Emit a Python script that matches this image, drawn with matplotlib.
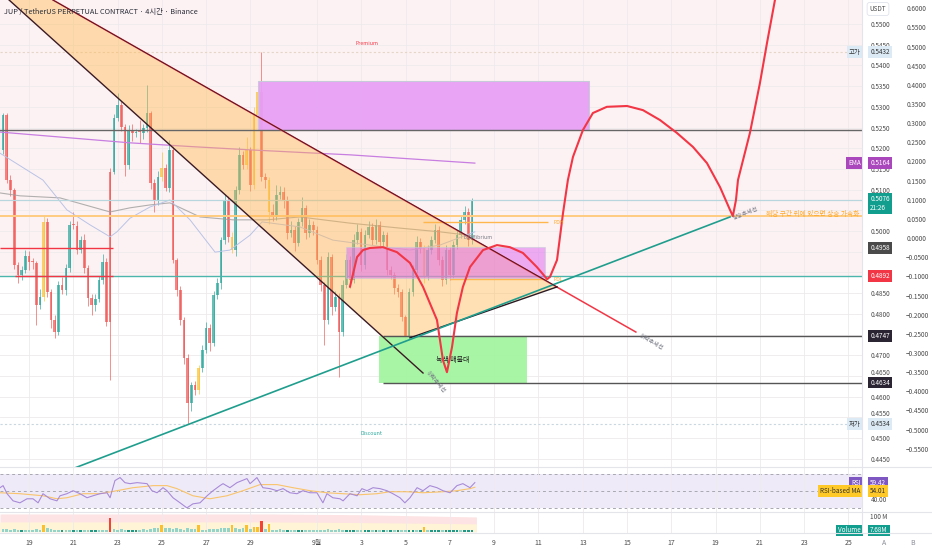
import numpy as np
import matplotlib.pyplot as plt
from matplotlib.patches import Rectangle, Polygon
from matplotlib.lines import Line2D
from matplotlib.transforms import blended_transform_factory, ScaledTranslation

plt.rcParams['font.family'] = ['Noto Sans CJK KR', 'DejaVu Sans']

# time axis in days: Aug 19 = 19, Sep 1 = 32; 4h candles
t0 = 17.83
first_open = 0.5196
closes = [0.5280, 0.5123, 0.5099, 0.4918, 0.4894, 0.4906, 0.4940, 0.4925, 0.4923, 0.4821,
          0.4841, 0.5022, 0.4853, 0.4785, 0.4756, 0.4870, 0.4858, 0.4911, 0.5015, 0.5012,
          0.4954, 0.4978, 0.4911, 0.4838, 0.4821, 0.4836, 0.4882, 0.4925, 0.4780, 0.5143,
          0.5273, 0.5304, 0.5251, 0.5159, 0.5244, 0.5237, 0.5239, 0.5237, 0.5249, 0.5285,
          0.5116, 0.5075, 0.5131, 0.5152, 0.5104, 0.5196, 0.4930, 0.4858, 0.4785, 0.4693,
          0.4585, 0.4628, 0.4616, 0.4669, 0.4713, 0.4766, 0.4730, 0.4846, 0.4875, 0.4978,
          0.5075, 0.4986, 0.4954, 0.5099, 0.5184, 0.5159, 0.5196, 0.5111, 0.5280, 0.5336,
          0.5131, 0.5123, 0.5046, 0.5034, 0.5087, 0.5094, 0.5075, 0.4995, 0.5003, 0.4971,
          0.5022, 0.5056, 0.4995, 0.5015, 0.5003, 0.4930, 0.4870, 0.4785, 0.4937, 0.4817,
          0.4841, 0.4756, 0.4870, 0.4930, 0.4882, 0.4978, 0.4998, 0.4918, 0.4990, 0.5010,
          0.4978, 0.5015, 0.4974, 0.4990, 0.4906, 0.4894, 0.4862, 0.4853, 0.4792, 0.4744,
          0.4853, 0.4906, 0.4974, 0.4959, 0.4889, 0.4954, 0.4978, 0.5003, 0.4930, 0.4882,
          0.4954, 0.4894, 0.4966, 0.4990, 0.5027, 0.5046, 0.4978, 0.5076]
# wick lengths in 0.0001
up_wick = [6, 5, 12, 6, 8, 10, 15, 12, 10, 5,
           20, 15, 10, 8, 12, 10, 20, 10, 8, 30,
           12, 10, 15, 8, 10, 12, 10, 20, 10, 10,
           10, 29, 10, 8, 12, 15, 8, 30, 10, 68,
           5, 10, 15, 40, 10, 25, 10, 6, 10, 8,
           10, 8, 10, 8, 12, 15, 10, 10, 12, 8,
           15, 10, 12, 10, 20, 10, 30, 8, 20, 20,
           96, 10, 8, 20, 25, 15, 12, 10, 20, 8,
           10, 25, 8, 15, 10, 8, 10, 8, 12, 8,
           15, 10, 12, 15, 10, 15, 20, 10, 12, 15,
           10, 15, 8, 10, 8, 10, 8, 10, 6, 5,
           10, 12, 15, 10, 8, 12, 10, 15, 8, 10,
           12, 8, 10, 12, 10, 15, 10, 4]
dn_wick = [10, 8, 15, 10, 20, 12, 8, 20, 15, 48,
           10, 10, 12, 20, 14, 8, 10, 12, 10, 8,
           10, 8, 12, 20, 25, 15, 8, 10, 10, 140,
           6, 8, 10, 25, 10, 20, 10, 25, 15, 10,
           15, 30, 12, 10, 8, 10, 8, 15, 12, 15,
           51, 20, 12, 10, 10, 8, 20, 8, 10, 15,
           10, 12, 8, 15, 10, 8, 10, 15, 10, 8,
           10, 20, 30, 10, 8, 10, 20, 15, 10, 20,
           8, 10, 15, 10, 12, 10, 15, 60, 10, 20,
           10, 109, 10, 8, 20, 8, 10, 15, 10, 8,
           12, 10, 15, 10, 12, 10, 15, 12, 10, 15,
           8, 10, 8, 12, 15, 8, 10, 8, 12, 15,
           10, 12, 8, 10, 8, 10, 15, 10]
# volume in millions
volumes = [15, 18, 12, 20, 10, 8, 14, 10, 12, 16,
           10, 45, 25, 20, 14, 10, 8, 12, 14, 8,
           10, 9, 12, 10, 8, 9, 12, 10, 12, 87,
           20, 14, 20, 10, 8, 9, 8, 14, 16, 12,
           18, 22, 22, 45, 26, 22, 20, 24, 18, 14,
           22, 16, 20, 42, 14, 14, 16, 18, 20, 22,
           25, 24, 45, 26, 20, 24, 45, 20, 28, 28,
           68, 18, 50, 14, 12, 16, 10, 8, 14, 10,
           8, 9, 12, 10, 14, 12, 10, 14, 16, 12,
           10, 18, 10, 8, 9, 8, 12, 14, 8, 9,
           10, 8, 12, 8, 10, 9, 12, 8, 14, 10,
           9, 8, 10, 9, 30, 10, 8, 9, 8, 10,
           8, 9, 8, 9, 10, 8, 9, 8]

# moving averages (day, price)
ema_d = [17.69, 20.4, 23.56, 26.3, 28.98, 31.2, 33.49, 36.3, 39.13]
ema_p = [0.5239, 0.5227, 0.5213, 0.5204, 0.5196, 0.5190, 0.5184, 0.5174, 0.5164]
ma_d = [17.69, 18.59, 20.40, 22.66, 23.56, 24.46, 25.36, 26.72, 28.21, 29.74, 31.23, 33.49, 35.75, 37.55, 39.13]
ma_p = [0.5092, 0.5085, 0.5080, 0.5046, 0.5056, 0.5063, 0.5068, 0.5034, 0.5027, 0.5027, 0.5034, 0.5019, 0.5007, 0.4998, 0.4988]
fast_d = [17.69, 19.63, 20.71, 21.75, 22.66, 22.97, 23.56, 24.46, 25.36, 26.27, 27.40, 28.07, 28.98, 29.52,
          31.23, 32.72, 34.39, 36.20, 37.55, 39.13]
fast_p = [0.5188, 0.5123, 0.5051, 0.5015, 0.4986, 0.4998, 0.5031, 0.5058, 0.5075, 0.5027, 0.4949, 0.4954, 0.4990, 0.5022,
          0.5010, 0.4978, 0.4966, 0.4954, 0.4966, 0.4998]

# drawings (day, price anchors)
wedge_d = [18.10, 20.08, 42.84, 36.2, 35.03]
wedge_p = [0.5558, 0.5558, 0.4865, 0.4742, 0.4742]
down_upper_d = [20.08, 46.40]
down_upper_p = [0.5558, 0.4756]
down_lower_d = [18.10, 36.79]
down_lower_p = [0.5558, 0.4657]
up_trend_d = [21.08, 50.65]
up_trend_p = [0.4428, 0.5034]
curve_d = [33.49, 33.81, 34.08, 34.39, 34.98, 35.61, 36.20, 36.79, 37.42, 37.69, 37.87, 38.10, 38.32, 38.59,
           38.91, 39.50, 40.13, 40.71, 41.30, 41.93, 42.39, 42.52, 42.84, 43.11, 43.33, 43.56, 44.01, 44.46,
           45.09, 46.00, 46.72, 47.49, 48.25, 48.98, 49.61, 50.20, 50.65, 50.78, 50.92, 51.01, 51.55, 52.00,
           52.32, 52.68]
curve_p = [0.4865, 0.4937, 0.4954, 0.4959, 0.4961, 0.4949, 0.4923, 0.4865, 0.4785, 0.4688, 0.4659, 0.4720, 0.4802, 0.4865,
           0.4913, 0.4954, 0.4966, 0.4961, 0.4947, 0.4913, 0.4884, 0.4889, 0.4930, 0.5043, 0.5123, 0.5179, 0.5244, 0.5285,
           0.5300, 0.5302, 0.5292, 0.5268, 0.5237, 0.5203, 0.5164, 0.5106, 0.5051, 0.5036, 0.5075, 0.5123, 0.5237, 0.5357,
           0.5454, 0.5558]

# RSI pane
rsi_d = [17.69, 17.83, 18.01, 18.28, 18.59, 18.91, 19.18, 19.41, 19.63, 19.95, 20.26, 20.40, 20.71, 20.99, 21.30,
         21.62, 21.89, 22.20, 22.52, 22.66, 22.88, 23.11, 23.33, 23.56, 23.88, 24.33, 24.55, 24.78, 25.05, 25.23,
         25.50, 25.82, 26.13, 26.40, 26.72, 27.04, 27.31, 27.62, 27.76, 28.07, 28.39, 28.84, 28.98, 29.29, 29.56,
         29.88, 30.20, 30.47, 30.78, 31.10, 31.37, 31.69, 32.00, 32.27, 32.45, 32.72, 33.04, 33.18, 33.49, 33.81,
         34.03, 34.26, 34.53, 34.85, 35.16, 35.43, 35.75, 35.97, 36.20, 36.52, 36.79, 37.10, 37.42, 37.69, 38.01,
         38.32, 38.59, 38.91, 39.13]
rsi_v = [53.5, 55.9, 46.5, 38.2, 35.9, 40.6, 40.6, 35.9, 46.5, 40.6, 38.2, 44.1, 46.5, 50.0, 46.5,
         41.8, 44.1, 46.5, 47.6, 41.8, 61.8, 65.3, 59.4, 58.2, 59.4, 58.2, 50.0, 47.6, 53.5, 50.0,
         41.8, 35.9, 30.0, 34.7, 35.9, 44.1, 50.0, 55.9, 58.2, 53.5, 59.4, 64.1, 58.2, 65.3, 53.5,
         52.4, 50.0, 52.4, 47.6, 46.5, 50.0, 47.6, 47.6, 35.9, 46.5, 41.8, 40.6, 38.2, 46.5, 44.1,
         52.4, 50.0, 53.5, 52.4, 50.0, 46.5, 41.8, 35.9, 41.8, 53.5, 50.0, 55.9, 53.5, 50.0, 47.6,
         55.9, 58.2, 53.5, 59.42]
rsi_ma_d = [17.69, 18.59, 19.63, 20.26, 20.71, 21.44, 22.20, 22.97, 23.69, 24.60, 25.23, 25.68, 26.40, 27.17,
            27.94, 28.66, 29.43, 30.20, 30.92, 31.69, 32.45, 33.18, 33.94, 34.71, 35.30, 36.06, 36.79, 37.69,
            38.32, 38.91, 39.13]
rsi_ma_v = [47.6, 46.5, 44.1, 40.6, 41.8, 46.5, 46.5, 50.0, 53.5, 55.9, 55.9, 52.4, 44.1, 40.6,
            44.1, 50.0, 57.1, 57.1, 53.5, 50.0, 47.6, 46.5, 45.3, 46.5, 48.8, 48.8, 47.6, 48.8,
            50.0, 52.4, 54.01]

# volume background band
band_d = [17.69, 30.0, 34.0, 39.2]
band_pink = [113, 113, 108, 94]
band_yellow = [62, 62, 58, 50]

date_ticks = [19, 21, 23, 25, 27, 29, 32, 34, 36, 38, 40, 42, 44, 46, 48, 50, 52, 54, 56]
date_labels = ['19', '21', '23', '25', '27', '29', '9월', '3', '5', '7', '9', '11', '13', '15', '17',
               '19', '21', '23', '25']
price_ticks = np.round(np.arange(0.445, 0.5501, 0.005), 4)
hidden_prices = [0.5050, 0.4950, 0.4900, 0.4750]   # covered by price tags
raised_prices = [0.4650, 0.4550]                   # pushed up by the tag below
pct_ticks = np.round(np.arange(-0.55, 0.6001, 0.05), 2)

TEAL = '#26a69a'
RED = '#ef5350'
YEL = '#fbc02d'
GRAY_TXT = '#4a4a4a'

W, H = 932, 550
fig = plt.figure(figsize=(W / 100, H / 100), dpi=100)


def rect(x0, y0, x1, y1):
    return [x0 / W, 1 - y1 / H, (x1 - x0) / W, (y1 - y0) / H]


ax = fig.add_axes(rect(0, 0, 862, 467))
ax_rsi = fig.add_axes(rect(0, 467, 862, 512), sharex=ax)
ax_vol = fig.add_axes(rect(0, 512, 862, 533), sharex=ax)

ax.set_xlim(17.69, 56.61)
ax.set_ylim(0.4430, 0.5558)
ax_rsi.set_ylim(25.2, 77.6)
ax_vol.set_ylim(-8.3, 125.5)

for a in (ax, ax_rsi, ax_vol):
    for s in a.spines.values():
        s.set_visible(False)
    a.set_xticks(date_ticks)
    a.grid(axis='x', color='#eeeaec', lw=0.6, zorder=0)
    a.tick_params(axis='x', length=0, labelbottom=False)
    a.yaxis.tick_right()
    a.tick_params(axis='y', length=0, pad=6, labelsize=4.6, labelcolor=GRAY_TXT)

ax_vol.tick_params(axis='x', labelbottom=True, pad=4, labelsize=5, labelcolor=GRAY_TXT)
ax_vol.set_xticklabels(date_labels)

# price axis
ax.set_yticks(price_ticks)
ax.set_yticklabels(['' if any(abs(p - h) < 1e-6 for h in hidden_prices) else f'{p:.4f}' for p in price_ticks])
ax.grid(axis='y', color='#eeeaec', lw=0.6, zorder=0)
ax.set_axisbelow(True)
lift = ScaledTranslation(0, 3 / 72, fig.dpi_scale_trans)
for val, tick in zip(price_ticks, ax.yaxis.get_major_ticks()):
    if any(abs(val - r) < 1e-6 for r in raised_prices):
        tick.label2.set_transform(tick.label2.get_transform() + lift)

sec = ax.secondary_yaxis(1.0464, functions=(lambda p: (p - 0.4983) * 10.81,
                                            lambda b: b / 10.81 + 0.4983))
sec.set_yticks(pct_ticks)
sec.set_yticklabels([f'{b:.4f}'.replace('-', '\u2212') for b in pct_ticks])
sec.tick_params(length=0, pad=3, labelsize=4.6, labelcolor=GRAY_TXT)
for s in sec.spines.values():
    s.set_visible(False)

# premium zone background
ax.axhspan(0.4892, 0.5558, color='#fdf2f3', zorder=0, lw=0)

# candles
n = len(closes)
t = t0 + np.arange(n) / 6
c = np.array(closes)
o = np.r_[first_open, c[:-1]]
vol = np.array(volumes)
hi = np.maximum(o, c) + np.array(up_wick) * 1e-4
lo = np.minimum(o, c) - np.array(dn_wick) * 1e-4
ccol = np.where(c >= o, TEAL, RED).astype(object)
ccol[vol >= 28] = YEL
ccol[vol > 60] = RED
ax.vlines(t, lo, hi, colors=list(ccol), lw=0.7, alpha=0.65, zorder=2)
body = np.where(np.abs(c - o) < 0.0003, 0.0003, c - o)
ax.bar(t, body, bottom=o, width=0.12, color=list(ccol), alpha=0.7, lw=0, zorder=2.1)

# moving averages
ax.plot(ema_d, ema_p, color='#c77ee0', lw=0.9, zorder=2.5)
ax.plot(ma_d, ma_p, color='#9e9e9e', lw=0.8, alpha=0.8, zorder=2.5)
ax.plot(fast_d, fast_p, color='#b9c3e6', lw=0.7, zorder=2.5)

# horizontal levels
ax.axhline(0.5432, color='#e6d6c8', lw=0.8, ls=(0, (2, 2)), zorder=2.6)
ax.axhline(0.4534, color='#c9d7e0', lw=0.8, ls=(0, (2, 2)), zorder=2.6)
ax.axhline(0.5076, color='#b7d6de', lw=0.9, zorder=2.6)
ax.axhline(0.5036, color='#ffcc80', lw=1.4, zorder=2.6)
ax.axhline(0.4892, color='#4db6ac', lw=1.0, zorder=2.6)
ax.axhline(0.5243, color='#666666', lw=1.0, zorder=4)
ax.hlines([0.4747, 0.4634], 35.0, 56.61, color='#555555', lw=1.0, zorder=4)
ax.hlines(0.5022, 36.79, 42.43, color='#ffb74d', lw=1.0, zorder=2.7)
ax.hlines(0.4884, 38.01, 42.43, color='#ffb74d', lw=1.0, zorder=2.7)
ax.hlines(0.4958, 17.69, 22.79, color='#f23645', lw=1.0, zorder=2.7)
ax.hlines(0.4892, 18.37, 22.79, color='#f23645', lw=1.0, zorder=2.7)

# wedge fill and borders
ax.add_patch(Polygon(np.c_[wedge_d, wedge_p], closed=True, fc='#ffb74d', alpha=0.42, lw=0, zorder=3))
ax.plot(down_upper_d, down_upper_p, color='#f23645', lw=1.1, zorder=4.2)
ax.plot(wedge_d[1:3], wedge_p[1:3], color='#3a1a24', lw=0.6, zorder=4.3)
ax.plot(down_lower_d, down_lower_p, color='#3a1a24', lw=1.0, zorder=4.2)
ax.plot(wedge_d[2:4], wedge_p[2:4], color='#2a1a24', lw=1.0, zorder=4.2)
ax.plot(up_trend_d, up_trend_p, color='#1f9e8e', lw=1.2, zorder=4.2)

# boxes
ax.add_patch(Rectangle((29.34, 0.5243), 44.28 - 29.34, 0.5362 - 0.5243,
                       fc='#e8a0f6', ec='#c5cbd8', lw=0.8, alpha=0.95, zorder=3.5))
ax.add_patch(Rectangle((33.31, 0.4886), 42.30 - 33.31, 0.4962 - 0.4886,
                       fc='#e070f0', ec='#c5cbd8', lw=0.8, alpha=0.55, zorder=3.5))
ax.add_patch(Rectangle((34.80, 0.4634), 41.48 - 34.80, 0.4747 - 0.4634,
                       fc='#a3f5a0', ec='none', alpha=0.95, zorder=3.5))

# projected path
ax.plot(curve_d, curve_p, color='#f23645', lw=1.5, zorder=6, solid_joinstyle='round', solid_capstyle='round')

# chart texts
ax.text(34.26, 0.5452, 'Premium', fontsize=3.8, color='#f23645', ha='center', va='center', zorder=7)
ax.text(34.48, 0.4510, 'Discount', fontsize=3.8, color='#26a69a', ha='center', va='center', zorder=7)
ax.text(38.6, 0.4985, 'Equilibrium', fontsize=3.8, color='#787b86', ha='left', va='center', zorder=7)
ax.text(42.7, 0.5020, 'PDH', fontsize=3.8, color='#ffa726', ha='left', va='center', zorder=7)
ax.text(42.7, 0.4882, 'PDL', fontsize=3.8, color='#ffa726', ha='left', va='center', zorder=7)
ax.text(51.37, 0.5043, '상승추세선', fontsize=4.2, color='#787b86', rotation=21, ha='center', va='center', zorder=7)
ax.text(47.08, 0.4732, '하락추세선', fontsize=4.2, color='#787b86', rotation=-30, ha='center', va='center', zorder=7)
ax.text(37.37, 0.4635, '하락추세선', fontsize=4.2, color='#787b86', rotation=-50, ha='center', va='center', zorder=7)
ax.text(52.27, 0.5041, '해당 구간 위에 있으면 상승 가속화', fontsize=4.8, color='#ffa726', ha='left', va='center',
        zorder=7)
ax.text(38.14, 0.4688, '녹색 매물대', fontsize=5, color='#222222', ha='center', va='center', zorder=5.5)


def tag(axis, y, text, fc, tc='white', side='right', dy=0):
    tr = blended_transform_factory(axis.transAxes, axis.transData)
    x = 1.0095 if side == 'right' else 0.9985
    axis.annotate(text, (x, y), xycoords=tr, xytext=(0, dy), textcoords='offset points',
                  ha='left' if side == 'right' else 'right', va='center', fontsize=4.6, color=tc,
                  bbox=dict(boxstyle='square,pad=0.3', fc=fc, ec='none'), annotation_clip=False, zorder=10)


tag(ax, 0.5432, '0.5432', '#dbeaf5', '#333333')
tag(ax, 0.5432, '고가', '#dbeaf5', '#333333', side='left')
tag(ax, 0.5164, '0.5164', '#ab47bc')
tag(ax, 0.5164, 'EMA', '#ab47bc', side='left')
tag(ax, 0.5076, '0.5076\n21:26', '#129e8f', dy=-3)
tag(ax, 0.4958, '0.4958', '#4a4a4a')
tag(ax, 0.4892, '0.4892', '#f23645')
tag(ax, 0.4747, '0.4747', '#2b2433')
tag(ax, 0.4634, '0.4634', '#2b2433')
tag(ax, 0.4534, '0.4534', '#dbeaf5', '#333333')
tag(ax, 0.4534, '저가', '#dbeaf5', '#333333', side='left')

# RSI pane
ax_rsi.axhspan(30, 70, color='#efeaf8', zorder=0, lw=0)
for lvl in (70, 50, 30):
    ax_rsi.axhline(lvl, color='#a8a8b0', lw=0.7, ls=(0, (3, 3)), zorder=1)
ax_rsi.plot(rsi_ma_d, rsi_ma_v, color='#f9c46b', lw=0.8, zorder=2)
ax_rsi.plot(rsi_d, rsi_v, color='#a88bd8', lw=0.8, zorder=2.1)
ax_rsi.set_yticks([40])
ax_rsi.set_yticklabels(['40.00'])
tag(ax_rsi, rsi_v[-1], '59.42', '#7e57c2')
tag(ax_rsi, rsi_v[-1], 'RSI', '#7e57c2', side='left')
tag(ax_rsi, rsi_ma_v[-1], '54.01', '#ffca28', '#333333', dy=-2.5)
tag(ax_rsi, rsi_ma_v[-1], 'RSI-based MA', '#ffca28', '#333333', side='left', dy=-2.5)

# volume pane
ax_vol.fill_between(band_d, 0, band_pink, color='#fde3e3', lw=0, zorder=0.5)
ax_vol.fill_between(band_d, 0, band_yellow, color='#fff4d6', lw=0, zorder=0.6)
vcol = np.where(vol < 10, '#1d9a8c', '#92d4cc').astype(object)
vcol[vol >= 28] = '#fbc02d'
vcol[vol > 60] = '#f44336'
ax_vol.bar(t, vol, width=0.12, color=list(vcol), lw=0, zorder=2)
ax_vol.set_yticks([100])
ax_vol.set_yticklabels(['100 M'])
tag(ax_vol, volumes[-1], '7.68M', '#129e8f')
tag(ax_vol, volumes[-1], 'Volume', '#129e8f', side='left')

# pane separators
for yy in (467, 512, 533):
    fig.add_artist(Line2D([0, 1], [1 - yy / H, 1 - yy / H], color='#e3e5ea', lw=0.8))
fig.add_artist(Line2D([862 / W, 862 / W], [1 - 533 / H, 1], color='#e3e5ea', lw=0.8))

fig.text(4 / W, 1 - 12 / H, 'JUP / TetherUS PERPETUAL CONTRACT · 4시간 · Binance', fontsize=5.3,
         color='#2a2e39', va='center', ha='left')
fig.text(878 / W, 1 - 9 / H, 'USDT', fontsize=4.6, color=GRAY_TXT, va='center', ha='center',
         bbox=dict(boxstyle='round,pad=0.4', fc='white', ec='#e0e3eb', lw=0.6))
fig.text(884 / W, 1 - 543 / H, 'A', fontsize=5, color='#8a8d96', ha='center', va='center')
fig.text(913 / W, 1 - 543 / H, 'B', fontsize=5, color='#8a8d96', ha='center', va='center')

fig.savefig('out.png', dpi=100)
